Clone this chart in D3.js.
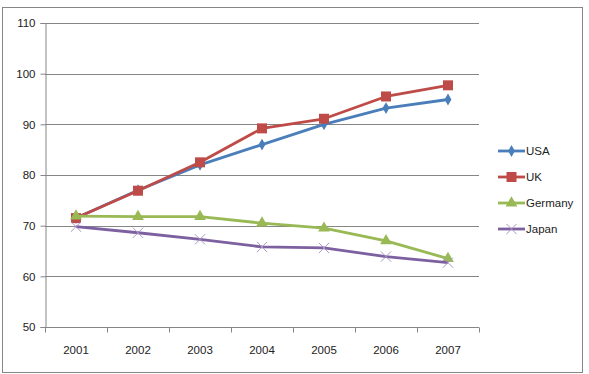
<!DOCTYPE html>
<html>
<head>
<meta charset="utf-8">
<script src="https://cdn.jsdelivr.net/npm/d3@7"></script>
<style>
  body { margin: 0; background: #fff; }
  text { font-family: "Liberation Sans", Arial, sans-serif; }
</style>
</head>
<body>
<div id="chart"></div>
<script>
const years = ["2001", "2002", "2003", "2004", "2005", "2006", "2007"];
const usa = [71.5, 77, 82, 86, 90, 93.2, 94.9];
const uk = [71.5, 76.9, 82.5, 89.2, 91.1, 95.5, 97.7];
const germany = [71.9, 71.8, 71.8, 70.5, 69.5, 67, 63.5];
const japan = [69.8, 68.6, 67.3, 65.8, 65.6, 63.9, 62.7];
const yTicks = [50, 60, 70, 80, 90, 100, 110];

const series = [
  { name: "USA", values: usa, color: "#4a7ebb", symbol: "diamond" },
  { name: "UK", values: uk, color: "#be4b48", symbol: "square" },
  { name: "Germany", values: germany, color: "#98b954", symbol: "triangle" },
  { name: "Japan", values: japan, color: "#7d60a0", symbol: "x" }
];

const width = 589;
const height = 374;
const margin = { top: 23, right: 110, bottom: 47, left: 45 };
const innerWidth = width - margin.left - margin.right;
const innerHeight = height - margin.top - margin.bottom;

const root = d3.select("#chart").append("svg")
  .attr("width", width)
  .attr("height", height);

// outer chart border
root.append("rect")
  .attr("x", 2.5).attr("y", 7.5)
  .attr("width", 580).attr("height", 365)
  .attr("fill", "none")
  .attr("stroke", "#868686")
  .attr("stroke-width", 1);

const svg = root.append("g")
  .attr("transform", `translate(${margin.left}, ${margin.top})`);

const x = d3.scaleBand().domain(years).range([0, innerWidth]);
const y = d3.scaleLinear().domain([50, 110]).range([innerHeight, 0]);

// gridlines
svg.append("g")
  .selectAll("line")
  .data(yTicks.filter((d) => d !== 50))
  .enter()
  .append("line")
  .attr("x1", 0).attr("x2", innerWidth)
  .attr("y1", (d) => Math.round(y(d)) + 0.5)
  .attr("y2", (d) => Math.round(y(d)) + 0.5)
  .attr("stroke", "#868686");

// y axis
const yAxis = d3.axisLeft(y).tickValues(yTicks).tickSize(5).tickPadding(5);
const yg = svg.append("g").attr("transform", "translate(0.5,0)").call(yAxis);
yg.select(".domain").attr("stroke", "#868686");
yg.selectAll(".tick line").attr("stroke", "#868686");
yg.selectAll(".tick text").attr("font-size", 11.5).attr("fill", "#222");

// x axis with ticks on category boundaries
const xg = svg.append("g").attr("transform", `translate(0, ${Math.round(innerHeight) + 0.5})`);
xg.append("line")
  .attr("x1", 0).attr("x2", innerWidth)
  .attr("stroke", "#868686");
xg.selectAll(".xtick")
  .data(years.concat([null]))
  .enter()
  .append("line")
  .attr("x1", (d, i) => Math.round(i * x.step()) + 0.5)
  .attr("x2", (d, i) => Math.round(i * x.step()) + 0.5)
  .attr("y1", 0).attr("y2", 5)
  .attr("stroke", "#868686");
xg.selectAll(".xlabel")
  .data(years)
  .enter()
  .append("text")
  .attr("x", (d) => x(d) + x.bandwidth() / 2)
  .attr("y", 26)
  .attr("text-anchor", "middle")
  .attr("font-size", 11.5)
  .attr("fill", "#222")
  .text((d) => d);

const cx = (i) => x(years[i]) + x.bandwidth() / 2;

const line = d3.line()
  .x((d, i) => cx(i))
  .y((d) => y(d));

const symbolPath = (s) => {
  if (s === "diamond") return d3.symbol().type(d3.symbolDiamond).size(40)();
  if (s === "square") return d3.symbol().type(d3.symbolSquare).size(100)();
  if (s === "triangle") return d3.symbol().type(d3.symbolTriangle).size(60)();
  return d3.symbol().type(d3.symbolTimes).size(70)();
};

series.forEach((s) => {
  svg.append("path")
    .datum(s.values)
    .attr("fill", "none")
    .attr("stroke", s.color)
    .attr("stroke-width", 2.8)
    .attr("stroke-linejoin", "round")
    .attr("d", line);

  svg.selectAll(null)
    .data(s.values)
    .enter()
    .append("path")
    .attr("transform", (d, i) => `translate(${cx(i)}, ${y(d)})`)
    .attr("d", symbolPath(s.symbol))
    .attr("fill", s.symbol === "x" ? "none" : s.color)
    .attr("stroke", s.symbol === "x" ? "#a897c4" : "none")
    .attr("stroke-width", 1);
});

// legend
const legend = root.append("g").attr("transform", "translate(498, 151)");
series.forEach((s, i) => {
  const g = legend.append("g").attr("transform", `translate(0, ${i * 26})`);
  g.append("line")
    .attr("x1", 0).attr("x2", 27)
    .attr("stroke", s.color)
    .attr("stroke-width", 2.8);
  g.append("path")
    .attr("transform", "translate(13.5, 0)")
    .attr("d", symbolPath(s.symbol))
    .attr("fill", s.symbol === "x" ? "none" : s.color)
    .attr("stroke", s.symbol === "x" ? "#a897c4" : "none");
  g.append("text")
    .attr("x", 28)
    .attr("y", 4)
    .attr("font-size", 11.5)
    .attr("fill", "#222")
    .text(s.name);
});
</script>
</body>
</html>
